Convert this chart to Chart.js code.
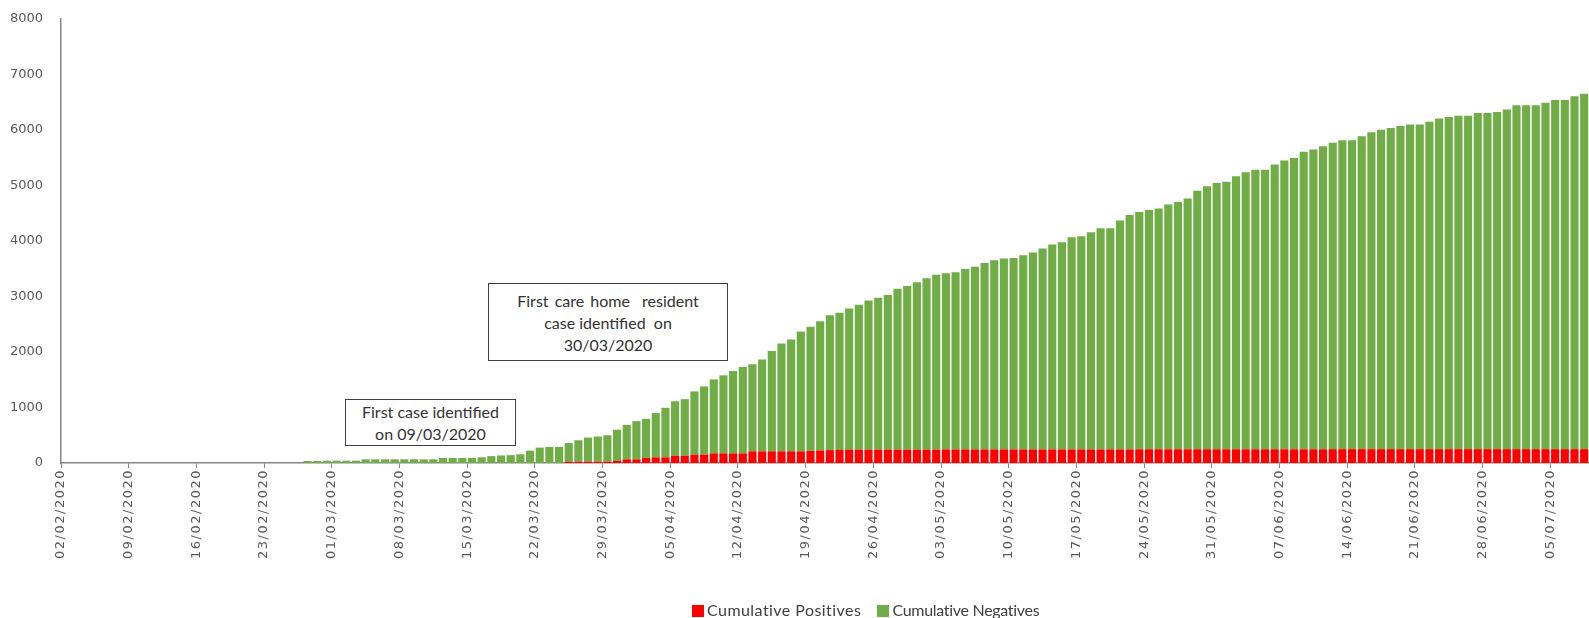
<!DOCTYPE html>
<html>
<head>
<meta charset="utf-8">
<script src="https://cdn.jsdelivr.net/npm/chart.js@4/dist/chart.umd.min.js"></script>
<style>
  body { margin: 0; background: #fff; }
  #wrap { position: relative; width: 1589px; height: 618px; overflow: hidden; }
  .note {
    position: absolute; border: 1px solid #404040; background: #fff;
    font-family: Lato, "Open Sans", sans-serif; font-size: 16px; color: #333;
    text-align: center; line-height: 22px; box-sizing: border-box;
  }
  #legend {
    position: absolute; top: 599px; left: 692px; line-height: 22px;
    font-family: Lato, "Open Sans", sans-serif; font-size: 16px; color: #404040;
    white-space: nowrap;
  }
  #legend span.box { display: inline-block; width: 12px; height: 12px; margin-right: 3px; vertical-align: -1px; }
</style>
</head>
<body>
<div id="wrap">
  <canvas id="graph"></canvas>
  <div class="note" style="left:345px; top:399px; width:171px; height:47px; padding-top:1px;">First case identified<br>on 09/03/2020</div>
  <div class="note" style="left:488px; top:283px; width:240px; height:78px; padding-top:6px;"><span style="word-spacing:2px">First care home&nbsp; resident</span><br>case identified&nbsp; on<br>30/03/2020</div>
  <div id="legend">
    <span class="box" style="background:#ff0000"></span><span style="letter-spacing:0.45px">Cumulative Positives</span>
    <span class="box" style="background:#70ad47; margin-left:12px"></span><span style="letter-spacing:-0.3px">Cumulative Negatives</span>
  </div>
</div>
<script>
// daily dates, 02/02/2020 -> 08/07/2020
const startDate = new Date(2020, 1, 2);
const dayCount = 158;
const dates = [];
for (let i = 0; i < dayCount; i++) {
  const d = new Date(startDate.getFullYear(), startDate.getMonth(), startDate.getDate() + i);
  const dd = String(d.getDate()).padStart(2, '0');
  const mm = String(d.getMonth() + 1).padStart(2, '0');
  dates.push(dd + '/' + mm + '/' + d.getFullYear());
}

const positives = [
  0,0,0,0,0,0,0,0,0,0, 0,0,0,0,0,0,0,0,0,0,
  0,0,0,0,0,0,0,0,0,0, 0,0,0,0,0,0,0,0,0,0,
  0,0,0,0,0,0,0,0,0,0, 0,0,
  25,25,25,25,25, 36,66,66,90,102,102,133,133,151,151,
  175,175,175,175, 211,211,211,211,211,211,
  220,228,232,236,
  240,240,240,240,240,240,240,240,240,240,
  245,245,245,245,245,245,245,245,245,245,
  245,245,245,245,245,245,245,245,245,245,
  248,248,248,248,248,248,248,248,248,248,
  248,248,248,248,248,248,248,248,248,248,
  250,250,250,250,250,250,250,250,250,250,
  250,250,250,250,250,250,250,250,250,250,
  250,250,250,250,250,250,250
];

const negatives = [
  0,0,0,0,0,0,0,0,0,0, 0,0,0,0,0,0,0,0,0,0,
  0,0,0,0,0,36,36,42,42,42, 42,66,66,66,66,66,66,66,66,90,
  90,90,90,103,124,136,142,157,223,278, 290,290,
  334,385,433,452,475,564,622,688,706,797,
  893,979,1017,1139,1229,1332,1404,1483,1555,1567,
  1652,1808,1941,2013,2158,2233,2328,2432,2470,2542,
  2611,2689,2738,2786,2900,2949,3015,3087,3154,3173,
  3191,3251,3293,3360,3408,3438,3450,3498,3546,3619,
  3691,3733,3824,3842,3914,3986,3986,4125,4222,4273,
  4309,4339,4411,4454,4520,4657,4737,4797,4818,4918,
  4990,5038,5038,5129,5201,5249,5358,5400,5460,5519,
  5567,5567,5639,5711,5754,5784,5820,5850,5850,5898,
  5958,5983,6007,6007,6055,6055,6073,6121,6194,6194,
  6194,6242,6290,6290,6356,6405
];

const yTicks = [0, 1000, 2000, 3000, 4000, 5000, 6000, 7000, 8000];

// x labels are drawn after the bars (ticks z: 1), give them the wider spacing
const spacedLabels = {
  id: 'spacedLabels',
  afterDatasetsDraw(chart) { chart.ctx.letterSpacing = '1.5px'; },
  afterDraw(chart) { chart.ctx.letterSpacing = '0px'; }
};

const ctx = document.getElementById('graph').getContext('2d');

new Chart(ctx, {
  type: 'bar',
  data: {
    labels: dates,
    datasets: [{
      label: 'Cumulative Positives',
      data: positives,
      backgroundColor: '#ff0000',
      categoryPercentage: 1,
      barPercentage: 0.84
    }, {
      label: 'Cumulative Negatives',
      data: negatives,
      backgroundColor: '#70ad47',
      categoryPercentage: 1,
      barPercentage: 0.84
    }]
  },
  plugins: [spacedLabels],
  options: {
    responsive: true,
    maintainAspectRatio: false,
    animation: false,
    layout: { padding: { top: 19, left: 0, right: 0, bottom: 0 } },
    plugins: {
      legend: { display: false },
      tooltip: { enabled: false }
    },
    scales: {
      x: {
        stacked: true,
        afterFit: (scale) => {
          scale.height = 155;
          scale.paddingRight = 0;
          scale.paddingLeft = 0;
        },
        border: { display: true, color: '#868686', width: 1.5 },
        grid: {
          offset: true,
          drawOnChartArea: false,
          drawTicks: true,
          tickLength: 5,
          color: (c) => (c.index % 7 === 0 ? '#868686' : 'rgba(0,0,0,0)')
        },
        ticks: {
          z: 1,
          autoSkip: false,
          minRotation: 90,
          maxRotation: 90,
          padding: 1,
          labelOffset: -4.8,
          color: '#595959',
          font: { family: 'DejaVu Sans', size: 13 },
          callback: function (val, i) { return i % 7 === 0 ? dates[i] : ''; }
        }
      },
      y: {
        stacked: true,
        min: 0,
        max: 8000,
        afterFit: (scale) => {
          scale.width = 61;
          scale.paddingTop = 0;
          scale.paddingBottom = 0;
        },
        afterBuildTicks: (scale) => { scale.ticks = yTicks.map(v => ({ value: v })); },
        border: { display: true, color: '#868686', width: 1.5 },
        grid: { display: false, drawTicks: false },
        ticks: {
          padding: 18,
          color: '#595959',
          font: { family: 'DejaVu Sans', size: 13 },
          callback: (v) => String(v)
        }
      }
    }
  }
});
</script>
</body>
</html>
